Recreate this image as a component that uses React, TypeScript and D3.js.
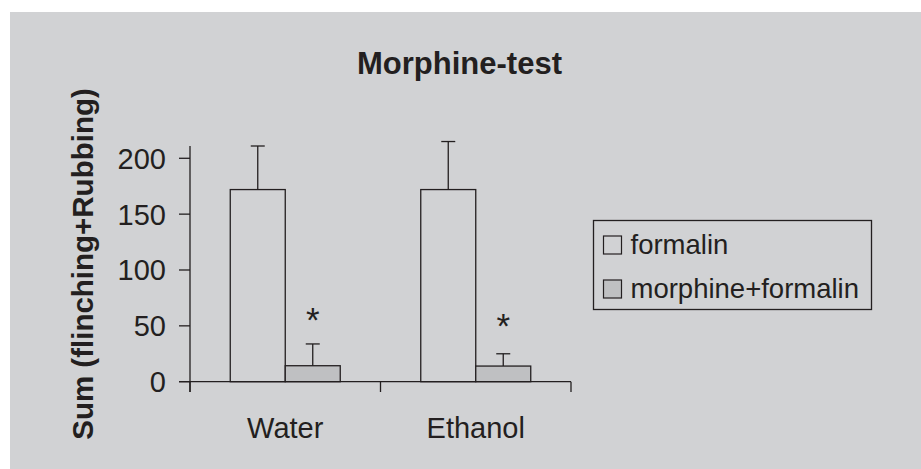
import React from "react";
import * as d3 from "d3";

const categories = ["Water", "Ethanol"];
const seriesNames = ["formalin", "morphine+formalin"];
const formalinMeans = [172, 172];
const formalinErrors = [39, 43];
const morphineMeans = [14.3, 14];
const morphineErrors = [19.5, 11];
const significanceMarks = ["*", "*"];
const significanceLevels = [62.7, 57.3];
const yTicks = [0, 50, 100, 150, 200];
const titleText = "Morphine-test";
const yLabelText = "Sum (flinching+Rubbing)";

const W = 921;
const H = 469;
const BG = "#d1d2d4";
const INK = "#231f20";
const FILLS = [BG, "#bfc0c2"];
const FONT = "'Liberation Sans', Arial, Helvetica, sans-serif";

export default function App() {
  const x0 = d3.scaleBand<string>().domain(categories).range([190, 571]).paddingInner(0).paddingOuter(0);
  const x1 = d3
    .scaleBand<string>()
    .domain(seriesNames)
    .range([0, x0.bandwidth()])
    .paddingInner(0)
    .paddingOuter(0.732);
  const y = d3.scaleLinear().domain([0, 211]).range([381.7, 146]);

  const means = [formalinMeans, morphineMeans];
  const errs = [formalinErrors, morphineErrors];

  const bars: React.ReactNode[] = [];
  categories.forEach((cat, ci) => {
    seriesNames.forEach((s, si) => {
      const bx = (x0(cat) as number) + (x1(s) as number);
      const bw = x1.bandwidth();
      const v = means[si][ci];
      const e = errs[si][ci];
      const cx = bx + bw / 2;
      bars.push(
        <g key={cat + s}>
          <line x1={cx} x2={cx} y1={y(v)} y2={y(v + e)} stroke={INK} strokeWidth={1.3} />
          <line x1={cx - 7} x2={cx + 7} y1={y(v + e)} y2={y(v + e)} stroke={INK} strokeWidth={1.3} />
          <rect x={bx} y={y(v)} width={bw} height={y(0) - y(v)} fill={FILLS[si]} stroke={INK} strokeWidth={1.3} />
        </g>
      );
    });
  });

  const [y0, yTop] = y.range();
  return (
    <svg width={W} height={H} style={{ position: "absolute", left: 0, top: 0 }} fontFamily={FONT}>
      <rect x={0} y={0} width={W} height={H} fill="#ffffff" />
      <rect x={10} y={12} width={W - 10} height={H - 12} fill={BG} />
      <text x={459.5} y={74} textAnchor="middle" fontSize={31} fontWeight="bold" fill={INK}>
        {titleText}
      </text>
      <text
        transform={`translate(93,264) rotate(-90)`}
        textAnchor="middle"
        fontSize={29.5}
        fontWeight="bold"
        fill={INK}
      >
        {yLabelText}
      </text>
      {bars}
      {categories.map((cat, ci) => {
        const bx = (x0(cat) as number) + (x1(seriesNames[1]) as number) + x1.bandwidth() / 2;
        return (
          <text key={cat + "sig"} x={bx} y={y(significanceLevels[ci]) + 20} textAnchor="middle" fontSize={35} fill={INK}>
            {significanceMarks[ci]}
          </text>
        );
      })}
      {/* y axis */}
      <line x1={190} x2={190} y1={yTop} y2={392} stroke={INK} strokeWidth={1.3} />
      {yTicks.map((t) => (
        <g key={t}>
          <line x1={179} x2={190} y1={y(t)} y2={y(t)} stroke={INK} strokeWidth={1.3} />
          <text x={166} y={y(t) + 10.5} textAnchor="end" fontSize={29} fill={INK}>
            {t}
          </text>
        </g>
      ))}
      {/* x axis */}
      <line x1={179} x2={571} y1={y0} y2={y0} stroke={INK} strokeWidth={1.3} />
      {[...categories.map((c) => x0(c) as number), 571].map((tx, i) => (
        <line key={i} x1={tx} x2={tx} y1={y0} y2={392} stroke={INK} strokeWidth={1.3} />
      ))}
      {categories.map((c) => (
        <text key={c} x={(x0(c) as number) + x0.bandwidth() / 2} y={438.3} textAnchor="middle" fontSize={29} fill={INK}>
          {c}
        </text>
      ))}
      {/* legend */}
      <rect x={593.5} y={220.5} width={278} height={89} fill="none" stroke={INK} strokeWidth={1.3} />
      {seriesNames.map((s, i) => (
        <g key={s}>
          <rect x={603.5} y={236 + i * 44} width={18} height={18} fill={FILLS[i]} stroke={INK} strokeWidth={1.2} />
          <text x={630.5} y={254.3 + i * 43.5} fontSize={27.5} fill={INK}>
            {s}
          </text>
        </g>
      ))}
    </svg>
  );
}
